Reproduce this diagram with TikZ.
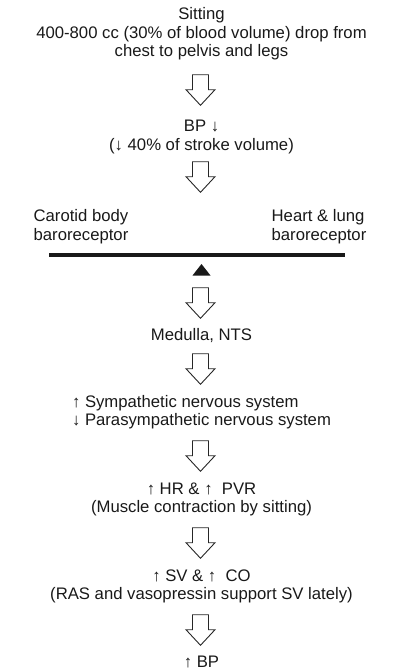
\documentclass[tikz,border=0pt]{standalone}
\usepackage{fontspec}
\setmainfont{Liberation Sans}
\usetikzlibrary{positioning}

\tikzset{
  txt/.style={text=black!90, font=\fontsize{16.7}{18.6}\selectfont, align=center, inner sep=0pt},
  holarrow/.pic={
    \draw[black!85, line width=0.9pt, line join=miter, fill=white]
      (-8,-15.3) -- (8,-15.3) -- (8,-0.3) -- (14.5,-0.3) -- (0,15.3)
      -- (-14.5,-0.3) -- (-8,-0.3) -- cycle;
  },
}

\begin{document}
\begin{tikzpicture}[x=1pt, y=-1pt]
        \useasboundingbox (0,0) rectangle (403,672);
        % 起因
        \node[txt] (sit) at (201.5,34) {Sitting\\400-800 cc (30\% of blood volume) drop from\\chest to pelvis and legs};
        % 血壓下降
        \node[txt] (bpdown) at (201.5,137) {BP ↓\\(↓ 40\% of stroke volume)};
        % 壓力感受器
        \node[txt, align=left] (carotid) at (81,226.5) {Carotid body\\baroreceptor};
        \node[txt, align=left] (heart) at (319,226.5) {Heart \& lung\\baroreceptor};
        % 橫線與三角形
        \draw[black!90, line width=4pt] (49,255) -- (345,255);
        \fill[black!90] (192.5,275.5) -- (210.5,275.5) -- (201.5,264) -- cycle;
        % 延髓
        \node[txt] (medulla) at (201.5,335.5) {Medulla, NTS};
        % 自律神經
        \node[txt, align=left] (ans) at (201.5,412) {↑\ Sympathetic nervous system\\↓\ Parasympathetic nervous system};
        % 心率與阻力
        \node[txt] (hr) at (201.5,499.5) {↑ HR \& ↑\ \ PVR\\(Muscle contraction by sitting)};
        % 心輸出
        \node[txt] (sv) at (201.5,586.5) {↑ SV \& ↑\ \ CO\\(RAS and vasopressin support SV lately)};
        % 結果
        \node[txt] (bpup) at (201.5,662) {↑ BP};
        % 空心箭頭
        \pic at (200.5,90) {holarrow};
        \pic at (200.5,177) {holarrow};
        \pic at (200.5,303) {holarrow};
        \pic at (200.5,369) {holarrow};
        \pic at (200.5,456) {holarrow};
        \pic at (200.5,543) {holarrow};
        \pic at (200.5,630) {holarrow};
\end{tikzpicture}
\end{document}
